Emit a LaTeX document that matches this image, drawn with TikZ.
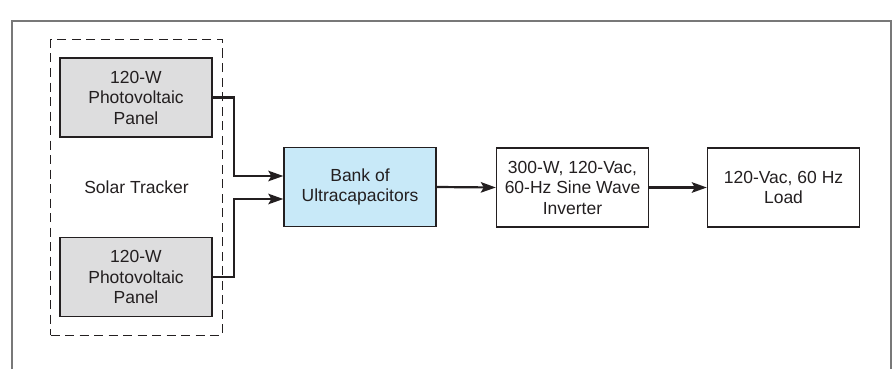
\documentclass[tikz,border=0pt]{standalone}
\usepackage{fontspec}
\setmainfont{Liberation Sans}
\usetikzlibrary{arrows.meta,calc}
\definecolor{ink}{RGB}{35,31,32}
\definecolor{panelgray}{RGB}{221,221,222}
\definecolor{capblue}{RGB}{200,233,248}
\definecolor{framegray}{RGB}{120,120,120}
\begin{document}
\begin{tikzpicture}[x=1pt,y=-1pt,
  blk/.style={draw=ink,line width=1.4pt,minimum width=152pt,minimum height=79pt,
    align=center,inner sep=0pt,font=\fontsize{17.5}{20.5}\selectfont,text=ink},
  panel/.style={blk,fill=panelgray},
  capbox/.style={blk,fill=capblue},
  trackbox/.style={draw=ink,line width=1pt,dash pattern=on 9pt off 5.5pt,
    minimum width=172pt,minimum height=295pt,inner sep=0pt,
    font=\fontsize{17.5}{20.5}\selectfont,text=ink},
  conn/.style={draw=ink,line width=2.2pt,-{Stealth[length=15pt,width=10.5pt,inset=3pt]}},
  frameline/.style={draw=framegray,line width=1.5pt}]
\useasboundingbox (0,0) rectangle (893,369);
% outer frame
\coordinate (f1) at (12,369);
\coordinate (f2) at (12,21);
\coordinate (f3) at (891,21);
\coordinate (f4) at (891,369);
\draw[frameline] (f1) -- (f2) -- (f3) -- (f4);
% solar tracker
\node[trackbox] (tracker) at (136.5,187.5) {Solar Tracker};
\node[panel] (p1) at (136,97.5) {120-W\\Photovoltaic\\Panel};
\node[panel] (p2) at (136,277) {120-W\\Photovoltaic\\Panel};
\node[capbox] (bank) at (360,187) {Bank of\\Ultracapacitors};
\node[blk] (inv) at (572.5,187.5) {300-W, 120-Vac,\\60-Hz Sine Wave\\Inverter};
\node[blk] (load) at (783.5,187.5) {120-Vac, 60 Hz\\Load};
% connectors
\coordinate (j1) at (234,176);
\coordinate (j2) at (234,199);
\draw[conn] (p1.east) -| (j1) -- (j1 -| bank.west);
\draw[conn] (p2.east) -| (j2) -- (j2 -| bank.west);
\draw[conn] (bank.east) -- (inv.west);
\draw[conn] (inv.east) -- (load.west);
\end{tikzpicture}
\end{document}
